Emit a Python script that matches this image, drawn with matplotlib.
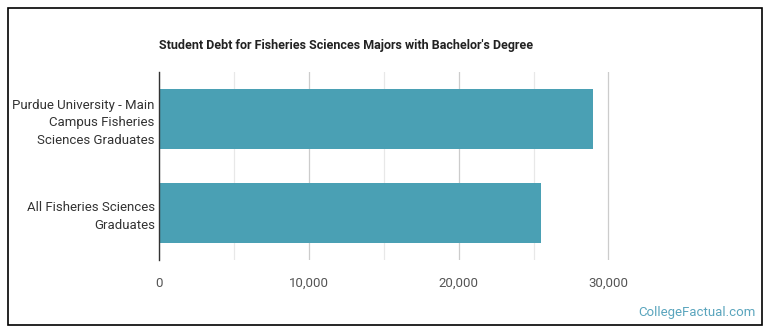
import matplotlib
matplotlib.use("Agg")
import matplotlib.pyplot as plt
from matplotlib.patches import Rectangle
from matplotlib.ticker import FuncFormatter, MultipleLocator

BAR_COLOR = '#4aa0b4'
MAJOR_GRID = '#cccccc'
MINOR_GRID = '#e8e8e8'
LABEL_COLOR = '#333333'
TICK_COLOR = '#555555'
MARK_COLOR = '#5aa5bd'

categories = ['All Fisheries Sciences\nGraduates',
              'Purdue University - Main\nCampus Fisheries\nSciences Graduates']
debt = [25500, 29000]
x_ticks = [0, 10000, 20000, 30000]

plt.rcParams['font.family'] = ['Roboto', 'DejaVu Sans']

fig = plt.figure(figsize=(7.7, 3.35), dpi=100)
fig.patch.set_facecolor('white')
ax = fig.add_axes([0.2065, 0.224, 0.681, 0.561])

ypos = list(range(len(categories)))
ax.barh(ypos, debt, height=0.64, color=BAR_COLOR, zorder=2)

ax.set_xlim(0, 35000)
ax.set_ylim(-0.5, 1.5)
ax.set_xticks(x_ticks)
ax.xaxis.set_minor_locator(MultipleLocator(5000))
ax.xaxis.set_major_formatter(FuncFormatter(lambda v, p: f"{int(v):,}"))
ax.set_yticks(ypos)
ax.set_yticklabels(categories, ha='right', color=LABEL_COLOR, fontsize=9.5, linespacing=1.45)
ax.tick_params(axis='x', length=0, pad=12, colors=TICK_COLOR, labelsize=9.5)
ax.tick_params(axis='y', length=0, pad=3)
ax.tick_params(axis='x', which='minor', length=0)

for v in x_ticks:
    ax.axvline(v, color=MAJOR_GRID, linewidth=0.9, zorder=1)
for v in [5000, 15000, 25000]:
    ax.axvline(v, color=MINOR_GRID, linewidth=0.9, zorder=1)

for name in ['top', 'right', 'bottom']:
    ax.spines[name].set_visible(False)
ax.spines['left'].set_color('#333333')
ax.spines['left'].set_linewidth(1.0)
ax.spines['left'].set_zorder(3)

fig.text(0.2065, 0.865, "Student Debt for Fisheries Sciences Majors with Bachelor's Degree",
         fontsize=9, fontweight='bold', color='#222222', ha='left', va='center')
fig.text(0.981, 0.066, 'CollegeFactual.com', fontsize=9.5, color=MARK_COLOR,
         ha='right', va='center')

fig.patches.append(Rectangle((8 / 770, 10 / 335), 754 / 770, 317 / 335,
                             transform=fig.transFigure, fill=False,
                             edgecolor='black', linewidth=1.2))

fig.savefig('out.png', dpi=100, facecolor='white')
